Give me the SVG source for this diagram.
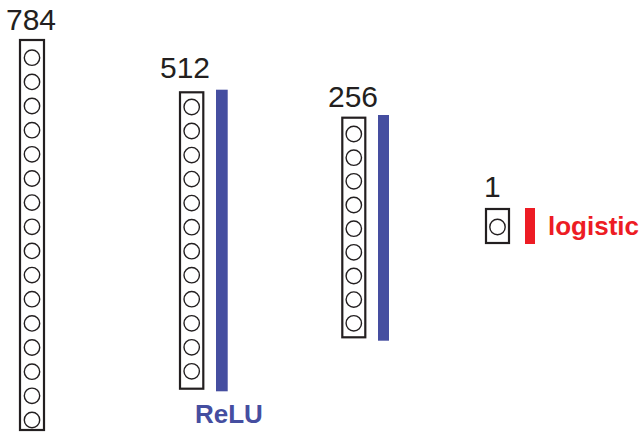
<svg xmlns="http://www.w3.org/2000/svg" width="641" height="433" viewBox="0 0 641 433">
<style>
.box{fill:#fff;stroke:#231f20;stroke-width:2.2}
.n{fill:none;stroke:#231f20;stroke-width:1.4}
.lbl{font-family:"Liberation Sans",Arial,sans-serif;font-size:30px;fill:#231f20}
.act{font-family:"Liberation Sans",Arial,sans-serif;font-size:26px;font-weight:bold}
.blue{fill:#454ea0}
.red{fill:#ed1c24}
</style>
<rect width="641" height="433" fill="#fff"/>
<g id="layer784">
<text class="lbl" x="6" y="30">784</text>
<rect class="box" x="20" y="40" width="24" height="390"/>
<g class="n">
<circle cx="32" cy="57.7" r="7.7"/><circle cx="32" cy="81.9" r="7.7"/><circle cx="32" cy="106" r="7.7"/><circle cx="32" cy="130.2" r="7.7"/>
<circle cx="32" cy="154.3" r="7.7"/><circle cx="32" cy="178.5" r="7.7"/><circle cx="32" cy="202.6" r="7.7"/><circle cx="32" cy="226.8" r="7.7"/>
<circle cx="32" cy="250.9" r="7.7"/><circle cx="32" cy="275.1" r="7.7"/><circle cx="32" cy="299.2" r="7.7"/><circle cx="32" cy="323.4" r="7.7"/>
<circle cx="32" cy="347.5" r="7.7"/><circle cx="32" cy="371.7" r="7.7"/><circle cx="32" cy="395.8" r="7.7"/><circle cx="32" cy="420" r="7.7"/>
</g>
</g>
<g id="layer512">
<text class="lbl" x="160" y="78">512</text>
<rect class="box" x="180" y="92.3" width="23.3" height="296.4"/>
<g class="n">
<circle cx="191.7" cy="107" r="7.7"/><circle cx="191.7" cy="131" r="7.7"/><circle cx="191.7" cy="155.1" r="7.7"/><circle cx="191.7" cy="179.1" r="7.7"/>
<circle cx="191.7" cy="203.1" r="7.7"/><circle cx="191.7" cy="227.2" r="7.7"/><circle cx="191.7" cy="251.2" r="7.7"/><circle cx="191.7" cy="275.2" r="7.7"/>
<circle cx="191.7" cy="299.2" r="7.7"/><circle cx="191.7" cy="323.3" r="7.7"/><circle cx="191.7" cy="347.3" r="7.7"/><circle cx="191.7" cy="371.3" r="7.7"/>
</g>
<rect class="blue" x="216" y="89.7" width="11.7" height="301.6"/>
<text class="act blue" x="195" y="423">ReLU</text>
</g>
<g id="layer256">
<text class="lbl" x="328" y="107">256</text>
<rect class="box" x="342.3" y="117.7" width="23" height="219.6"/>
<g class="n">
<circle cx="353.8" cy="134" r="7.7"/><circle cx="353.8" cy="157.7" r="7.7"/><circle cx="353.8" cy="181.3" r="7.7"/><circle cx="353.8" cy="205" r="7.7"/>
<circle cx="353.8" cy="228.7" r="7.7"/><circle cx="353.8" cy="252.3" r="7.7"/><circle cx="353.8" cy="276" r="7.7"/><circle cx="353.8" cy="299.6" r="7.7"/>
<circle cx="353.8" cy="323.3" r="7.7"/>
</g>
<rect class="blue" x="378" y="115" width="11" height="225.7"/>
</g>
<g id="layer1">
<text class="lbl" x="484" y="197">1</text>
<rect class="box" x="486" y="209" width="23" height="34"/>
<circle class="n" cx="497.5" cy="227" r="7.7"/>
<rect class="red" x="525" y="208" width="10" height="36"/>
<text class="act red" x="548" y="235">logistic</text>
</g>
<g id="connectors"></g>
</svg>
